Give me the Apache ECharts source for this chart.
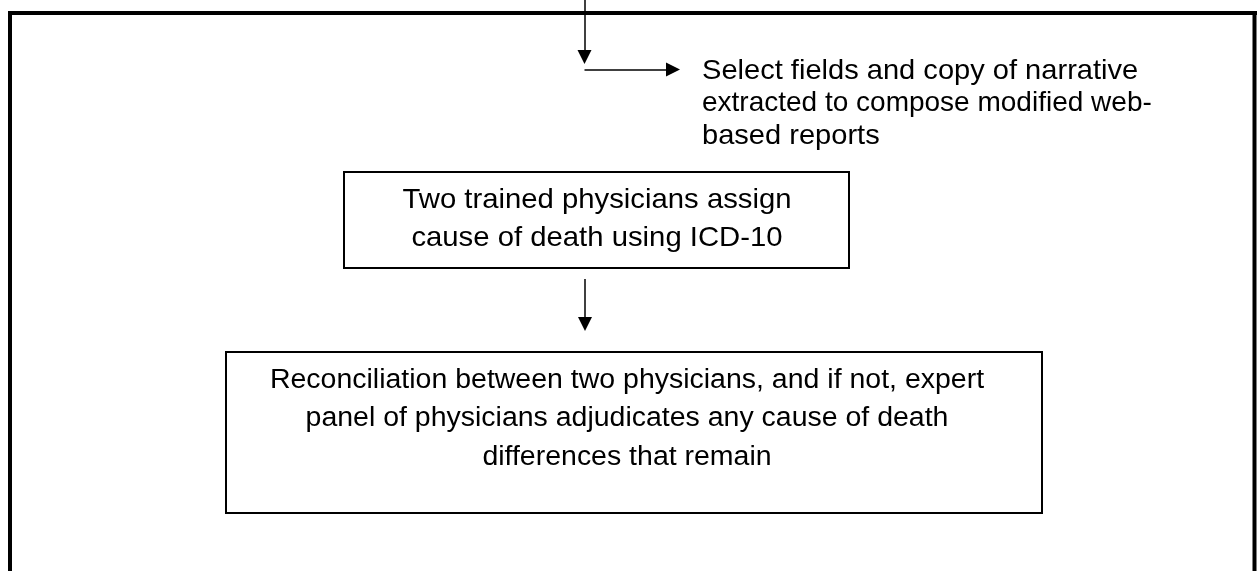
<!DOCTYPE html>
<html lang="en">
<head>
    <meta charset="UTF-8">
    <title>Flow</title>
    <style>
        html, body { margin: 0; padding: 0; background: #fff; }
        #main { width: 1257px; height: 571px; }
    </style>
</head>
<body>
<div id="main"></div>
<script src="https://cdn.jsdelivr.net/npm/echarts@6/dist/echarts.min.js"></script>
<script>
    const myChart = echarts.init(document.getElementById('main'));

    // texts of the two boxes
    const boxTexts = [
        'Two trained physicians assign\ncause of death using ICD-10',
        'Reconciliation between two physicians, and if not, expert\npanel of physicians adjudicates any cause of death\ndifferences that remain'
    ];
    // free text next to the arrow
    const noteLines = [
        'Select fields and copy of narrative',
        'extracted to compose modified web-',
        'based reports'
    ];

    // layout (page pixels, y downwards)
    const boxLayout = [
        {x0: 344, y0: 172, x1: 849, y1: 268, tx: 597, ty: 181, lh: 38, size: 28, sx: 1.046},
        {x0: 226, y0: 352, x1: 1042, y1: 513, tx: 627, ty: 361, lh: 38.5, size: 27, sx: 1.055}
    ];
    const noteLayout = {x: 702, y: 55, lh: 32.5, size: 28, sx: [1.038, 1.0, 1.038]};
    const arrowPaths = [
        [[584.5, 0], [584.5, 57]],
        [[584.5, 69.5], [673, 69.5]],
        [[585, 279], [585, 324]]
    ];
    const framePaths = [
        [[8, 13], [1257, 13]],
        [[10, 11], [10, 571]],
        [[1254.5, 11], [1254.5, 571]]
    ];

    const fontFamily = '"Liberation Sans", Arial, sans-serif';

    function renderBox(params, api) {
        const b = boxLayout[params.dataIndex];
        const p0 = api.coord([b.x0, b.y0]);
        const p1 = api.coord([b.x1, b.y1]);
        const t = api.coord([b.tx, b.ty]);
        return {
            type: 'group',
            children: [
                {
                    type: 'rect',
                    shape: {x: p0[0], y: p0[1], width: p1[0] - p0[0], height: p1[1] - p0[1]},
                    style: {fill: '#fff', stroke: '#000', lineWidth: 2}
                },
                {
                    type: 'text',
                    x: t[0], y: t[1],
                    scaleX: b.sx,
                    style: {
                        text: boxTexts[params.dataIndex],
                        font: b.size + 'px ' + fontFamily, fill: '#000',
                        align: 'center', verticalAlign: 'top',
                        lineHeight: b.lh
                    }
                }
            ]
        };
    }

    // one text element per note line
    function renderNote(params, api) {
        const i = params.dataIndex;
        const p = api.coord([noteLayout.x, noteLayout.y + i * noteLayout.lh]);
        return {
            type: 'text',
            x: p[0], y: p[1],
            scaleX: noteLayout.sx[i],
            style: {
                text: noteLines[i],
                font: noteLayout.size + 'px ' + fontFamily, fill: '#000',
                align: 'left', verticalAlign: 'top',
                lineHeight: noteLayout.lh
            }
        };
    }

    const option = {
        animation: false,
        backgroundColor: '#fff',
        grid: {left: 0, right: 0, top: 0, bottom: 0},
        xAxis: {type: 'value', min: 0, max: 1257, show: false},
        yAxis: {type: 'value', min: 0, max: 571, inverse: true, show: false},
        series: [
            {
                type: 'lines',
                coordinateSystem: 'cartesian2d',
                polyline: true,
                silent: true,
                lineStyle: {color: '#000', width: 4, opacity: 1},
                data: framePaths.map(c => ({coords: c}))
            },
            {
                type: 'lines',
                coordinateSystem: 'cartesian2d',
                silent: true,
                symbol: ['none', 'triangle'],
                symbolSize: 14,
                lineStyle: {color: '#000', width: 1.5, opacity: 1},
                itemStyle: {color: '#000'},
                data: arrowPaths.map(c => ({coords: c}))
            },
            {
                type: 'custom',
                coordinateSystem: 'cartesian2d',
                silent: true,
                renderItem: renderBox,
                data: boxTexts.map((t, i) => [boxLayout[i].x0, boxLayout[i].y0])
            },
            {
                type: 'custom',
                coordinateSystem: 'cartesian2d',
                silent: true,
                renderItem: renderNote,
                data: noteLines.map((t, i) => [noteLayout.x, noteLayout.y + i * noteLayout.lh])
            }
        ]
    };

    myChart.setOption(option);
</script>
</body>
</html>
